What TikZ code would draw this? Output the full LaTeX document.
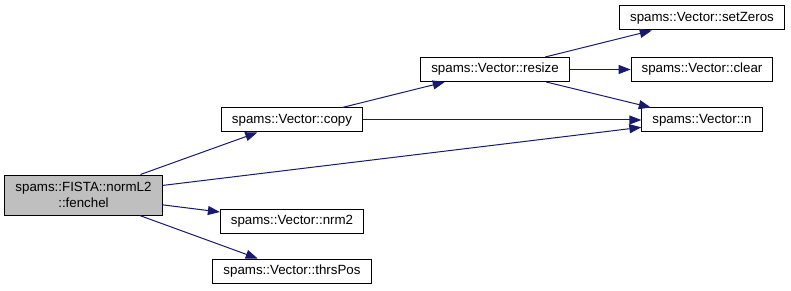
\documentclass[tikz,border=0pt]{standalone}
\usepackage{fontspec}
\setmainfont{Liberation Sans}
\usetikzlibrary{arrows.meta}
\definecolor{edgeblue}{RGB}{25,25,112}
\begin{document}
\begin{tikzpicture}[x=1pt,y=-1pt,
	fn/.style={draw=black, line width=1pt, inner xsep=10.5pt, inner ysep=4pt, minimum height=24pt, font=\fontsize{13.33}{16}\selectfont},
	call/.style={edgeblue, line width=1pt, -{Triangle[length=12pt,width=9pt]}}]
	\useasboundingbox (0,0) rectangle (791,291);
	% caller
	\node[fn, fill=black!25, align=center, minimum height=40pt] (fenchel) at (83.5,195) {spams::FISTA::normL2\\::fenchel};
	% first level
	\node[fn] (copy) at (292,120) {spams::Vector::copy};
	\node[fn] (nrm2) at (292,221) {spams::Vector::nrm2};
	\node[fn] (thrsPos) at (292,271) {spams::Vector::thrsPos};
	% second and third level
	\node[fn] (resize) at (495,69.5) {spams::Vector::resize};
	\node[fn] (setZeros) at (702,18) {spams::Vector::setZeros};
	\node[fn] (clear) at (702,69.5) {spams::Vector::clear};
	\node[fn] (n) at (702,120) {spams::Vector::n};
	% calls
	\draw[call] (fenchel) -- (copy);
	\draw[call] (fenchel) -- (n);
	\draw[call] (fenchel) -- (nrm2);
	\draw[call] (fenchel) -- (thrsPos);
	\draw[call] (copy) -- (resize);
	\draw[call] (copy) -- (n);
	\draw[call] (resize) -- (setZeros);
	\draw[call] (resize) -- (clear);
	\draw[call] (resize) -- (n);
\end{tikzpicture}
\end{document}
